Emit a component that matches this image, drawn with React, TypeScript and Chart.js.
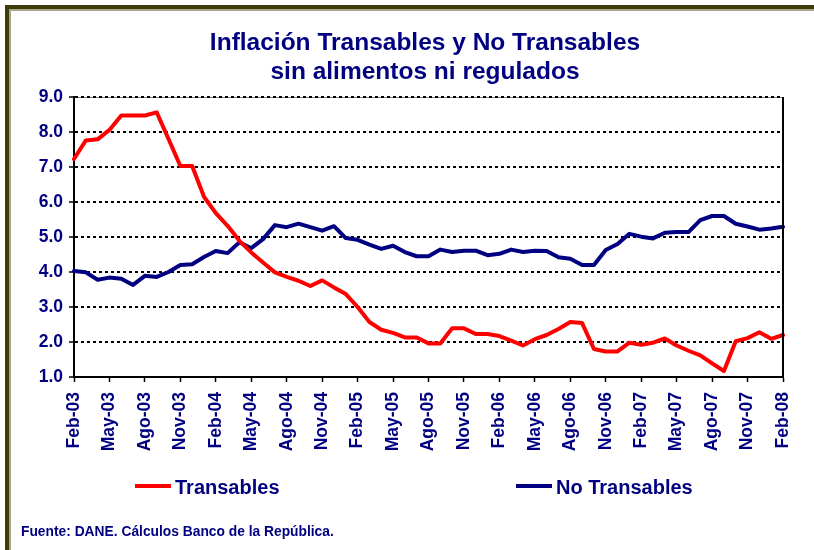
import React, { useEffect, useRef } from "react";
import { Chart, registerables } from "chart.js";

Chart.register(...registerables);

const MONTHS: string[] = [
  "Feb-03", "Mar-03", "Abr-03", "May-03", "Jun-03", "Jul-03", "Ago-03", "Sep-03", "Oct-03", "Nov-03", "Dic-03",
  "Ene-04", "Feb-04", "Mar-04", "Abr-04", "May-04", "Jun-04", "Jul-04", "Ago-04", "Sep-04", "Oct-04", "Nov-04", "Dic-04",
  "Ene-05", "Feb-05", "Mar-05", "Abr-05", "May-05", "Jun-05", "Jul-05", "Ago-05", "Sep-05", "Oct-05", "Nov-05", "Dic-05",
  "Ene-06", "Feb-06", "Mar-06", "Abr-06", "May-06", "Jun-06", "Jul-06", "Ago-06", "Sep-06", "Oct-06", "Nov-06", "Dic-06",
  "Ene-07", "Feb-07", "Mar-07", "Abr-07", "May-07", "Jun-07", "Jul-07", "Ago-07", "Sep-07", "Oct-07", "Nov-07", "Dic-07",
  "Ene-08", "Feb-08",
];

const TRANSABLES: number[] = [
  7.23, 7.76, 7.79, 8.06, 8.47, 8.47, 8.47, 8.56, 7.8, 7.03, 7.03,
  6.15, 5.68, 5.32, 4.89, 4.56, 4.27, 3.99, 3.86, 3.75, 3.6, 3.76, 3.56,
  3.37, 3.0, 2.57, 2.35, 2.26, 2.13, 2.13, 1.96, 1.96, 2.39, 2.39, 2.23,
  2.23, 2.17, 2.04, 1.9, 2.08, 2.2, 2.37, 2.57, 2.54, 1.8, 1.73, 1.73,
  1.98, 1.92, 1.98, 2.1, 1.9, 1.75, 1.62, 1.39, 1.17, 2.02, 2.11, 2.28,
  2.09, 2.2,
];

const NO_TRANSABLES: number[] = [
  4.03, 3.99, 3.78, 3.84, 3.81, 3.63, 3.89, 3.86, 4.0, 4.2, 4.22,
  4.43, 4.6, 4.54, 4.85, 4.68, 4.94, 5.34, 5.28, 5.38, 5.28, 5.18, 5.31,
  4.97, 4.92, 4.78, 4.66, 4.75, 4.57, 4.45, 4.45, 4.64, 4.57, 4.61, 4.61,
  4.48, 4.52, 4.64, 4.57, 4.61, 4.6, 4.42, 4.38, 4.2, 4.2, 4.63, 4.8,
  5.09, 5.01, 4.96, 5.12, 5.14, 5.14, 5.48, 5.6, 5.6, 5.38, 5.3, 5.21,
  5.24, 5.29,
];

const SERIES_NAMES = ["Transables", "No Transables"];
const TITLE_LINES = ["Inflación Transables y No Transables", "sin alimentos ni regulados"];
const SOURCE = "Fuente: DANE. Cálculos Banco de la República.";

const NAVY = "#000080";
const RED = "#FF0000";
const FONT = '"Liberation Sans", Arial, sans-serif';

const framePlugin = {
  id: "frameLines",
  beforeDraw(chart: any) {
    const { ctx, chartArea } = chart;
    if (!chartArea) return;
    ctx.save();
    ctx.strokeStyle = "#808080";
    ctx.lineWidth = 1;
    ctx.beginPath();
    ctx.moveTo(chartArea.left, chartArea.top + 0.5);
    ctx.lineTo(chartArea.right, chartArea.top + 0.5);
    ctx.stroke();
    ctx.restore();
  },
  afterDatasetsDraw(chart: any) {
    const { ctx, chartArea } = chart;
    ctx.save();
    ctx.strokeStyle = "#000000";
    ctx.lineWidth = 2;
    ctx.beginPath();
    ctx.moveTo(chartArea.right, chartArea.top);
    ctx.lineTo(chartArea.right, chartArea.bottom);
    ctx.stroke();
    ctx.restore();
  },
};

export default function App() {
  const canvasRef = useRef<HTMLCanvasElement | null>(null);

  useEffect(() => {
    if (!canvasRef.current) return;
    const chart = new Chart(canvasRef.current, {
      type: "line",
      data: {
        labels: MONTHS,
        datasets: [
          {
            label: SERIES_NAMES[0],
            data: TRANSABLES,
            borderColor: RED,
            backgroundColor: RED,
            borderWidth: 4,
            pointRadius: 0,
            tension: 0,
            borderJoinStyle: "round",
            borderCapStyle: "round",
          },
          {
            label: SERIES_NAMES[1],
            data: NO_TRANSABLES,
            borderColor: NAVY,
            backgroundColor: NAVY,
            borderWidth: 4,
            pointRadius: 0,
            tension: 0,
            borderJoinStyle: "round",
            borderCapStyle: "round",
          },
        ],
      },
      options: {
        animation: false,
        responsive: false,
        devicePixelRatio: 1,
        events: [],
        layout: { padding: { left: 0, right: 30, top: 97, bottom: 93 } },
        plugins: {
          legend: { display: false },
          tooltip: { enabled: false },
          title: { display: false },
        },
        scales: {
          x: {
            type: "category",
            offset: false,
            afterFit: (scale: any) => {
              scale.height = 80;
            },
            grid: {
              display: true,
              drawOnChartArea: false,
              drawTicks: true,
              tickLength: 5,
              tickWidth: 1.5,
              tickColor: (ctx: any) => (ctx.index % 3 === 0 ? "#000000" : "rgba(0,0,0,0)"),
            },
            border: { display: true, color: "#000000", width: 2 },
            ticks: {
              autoSkip: false,
              maxRotation: 90,
              minRotation: 90,
              padding: 10,
              color: NAVY,
              font: { family: FONT, size: 17.5, weight: "bold" },
              callback: function (this: any, value: any, index: number) {
                return index % 3 === 0 ? MONTHS[index] : "";
              },
            },
          },
          y: {
            min: 1,
            max: 9,
            afterFit: (scale: any) => {
              scale.width = 74;
            },
            grid: {
              display: true,
              drawOnChartArea: true,
              color: "#000000",
              lineWidth: 2,
              drawTicks: true,
              tickLength: 5,
              tickWidth: 1.5,
              tickColor: "#000000",
              tickBorderDash: [],
            },
            border: { display: true, color: "#000000", width: 2, dash: [3, 3] },
            ticks: {
              stepSize: 1,
              padding: 6,
              color: NAVY,
              font: { family: FONT, size: 17.5, weight: "bold" },
              callback: (v: any) => Number(v).toFixed(1),
            },
          },
        },
      },
      plugins: [framePlugin],
    } as any);
    return () => chart.destroy();
  }, []);

  const legendText: React.CSSProperties = {
    position: "absolute",
    top: 477,
    fontFamily: FONT,
    fontWeight: "bold",
    fontSize: 20,
    lineHeight: "20px",
    color: NAVY,
    whiteSpace: "nowrap",
  };
  const swatch = (left: number, color: string): React.CSSProperties => ({
    position: "absolute",
    left,
    top: 484,
    width: 36,
    height: 4,
    background: color,
  });
  const titleLine = (top: number): React.CSSProperties => ({
    position: "absolute",
    left: 0,
    width: 850,
    top,
    textAlign: "center",
    fontFamily: FONT,
    fontWeight: "bold",
    fontSize: 24.5,
    lineHeight: "29px",
    color: NAVY,
    whiteSpace: "nowrap",
  });

  return (
    <div
      style={{
        position: "fixed",
        left: 0,
        top: 0,
        width: 814,
        height: 550,
        overflow: "hidden",
        background: "#ffffff",
      }}
    >
      <div
        style={{
          position: "absolute",
          left: 5,
          top: 5,
          width: 900,
          height: 600,
          borderLeft: "4px solid #3c3c08",
          borderTop: "4px solid #3c3c08",
        }}
      >
        <div
          style={{
            position: "absolute",
            left: 0,
            top: 0,
            width: 900,
            height: 600,
            borderLeft: "2px solid #a8a890",
            borderTop: "2px solid #a8a890",
          }}
        />
      </div>
      <canvas
        ref={canvasRef}
        width={814}
        height={550}
        style={{ position: "absolute", left: 0, top: 0, width: 814, height: 550, display: "block" }}
      />
      <div style={titleLine(27)}>{TITLE_LINES[0]}</div>
      <div style={titleLine(56)}>{TITLE_LINES[1]}</div>
      <div style={swatch(135, RED)} />
      <div style={{ ...legendText, left: 175 }}>{SERIES_NAMES[0]}</div>
      <div style={swatch(516, NAVY)} />
      <div style={{ ...legendText, left: 556 }}>{SERIES_NAMES[1]}</div>
      <div
        style={{
          position: "absolute",
          left: 21,
          top: 525,
          fontFamily: FONT,
          fontWeight: "bold",
          fontSize: 13.8,
          lineHeight: "13.8px",
          color: NAVY,
          whiteSpace: "nowrap",
        }}
      >
        {SOURCE}
      </div>
    </div>
  );
}
